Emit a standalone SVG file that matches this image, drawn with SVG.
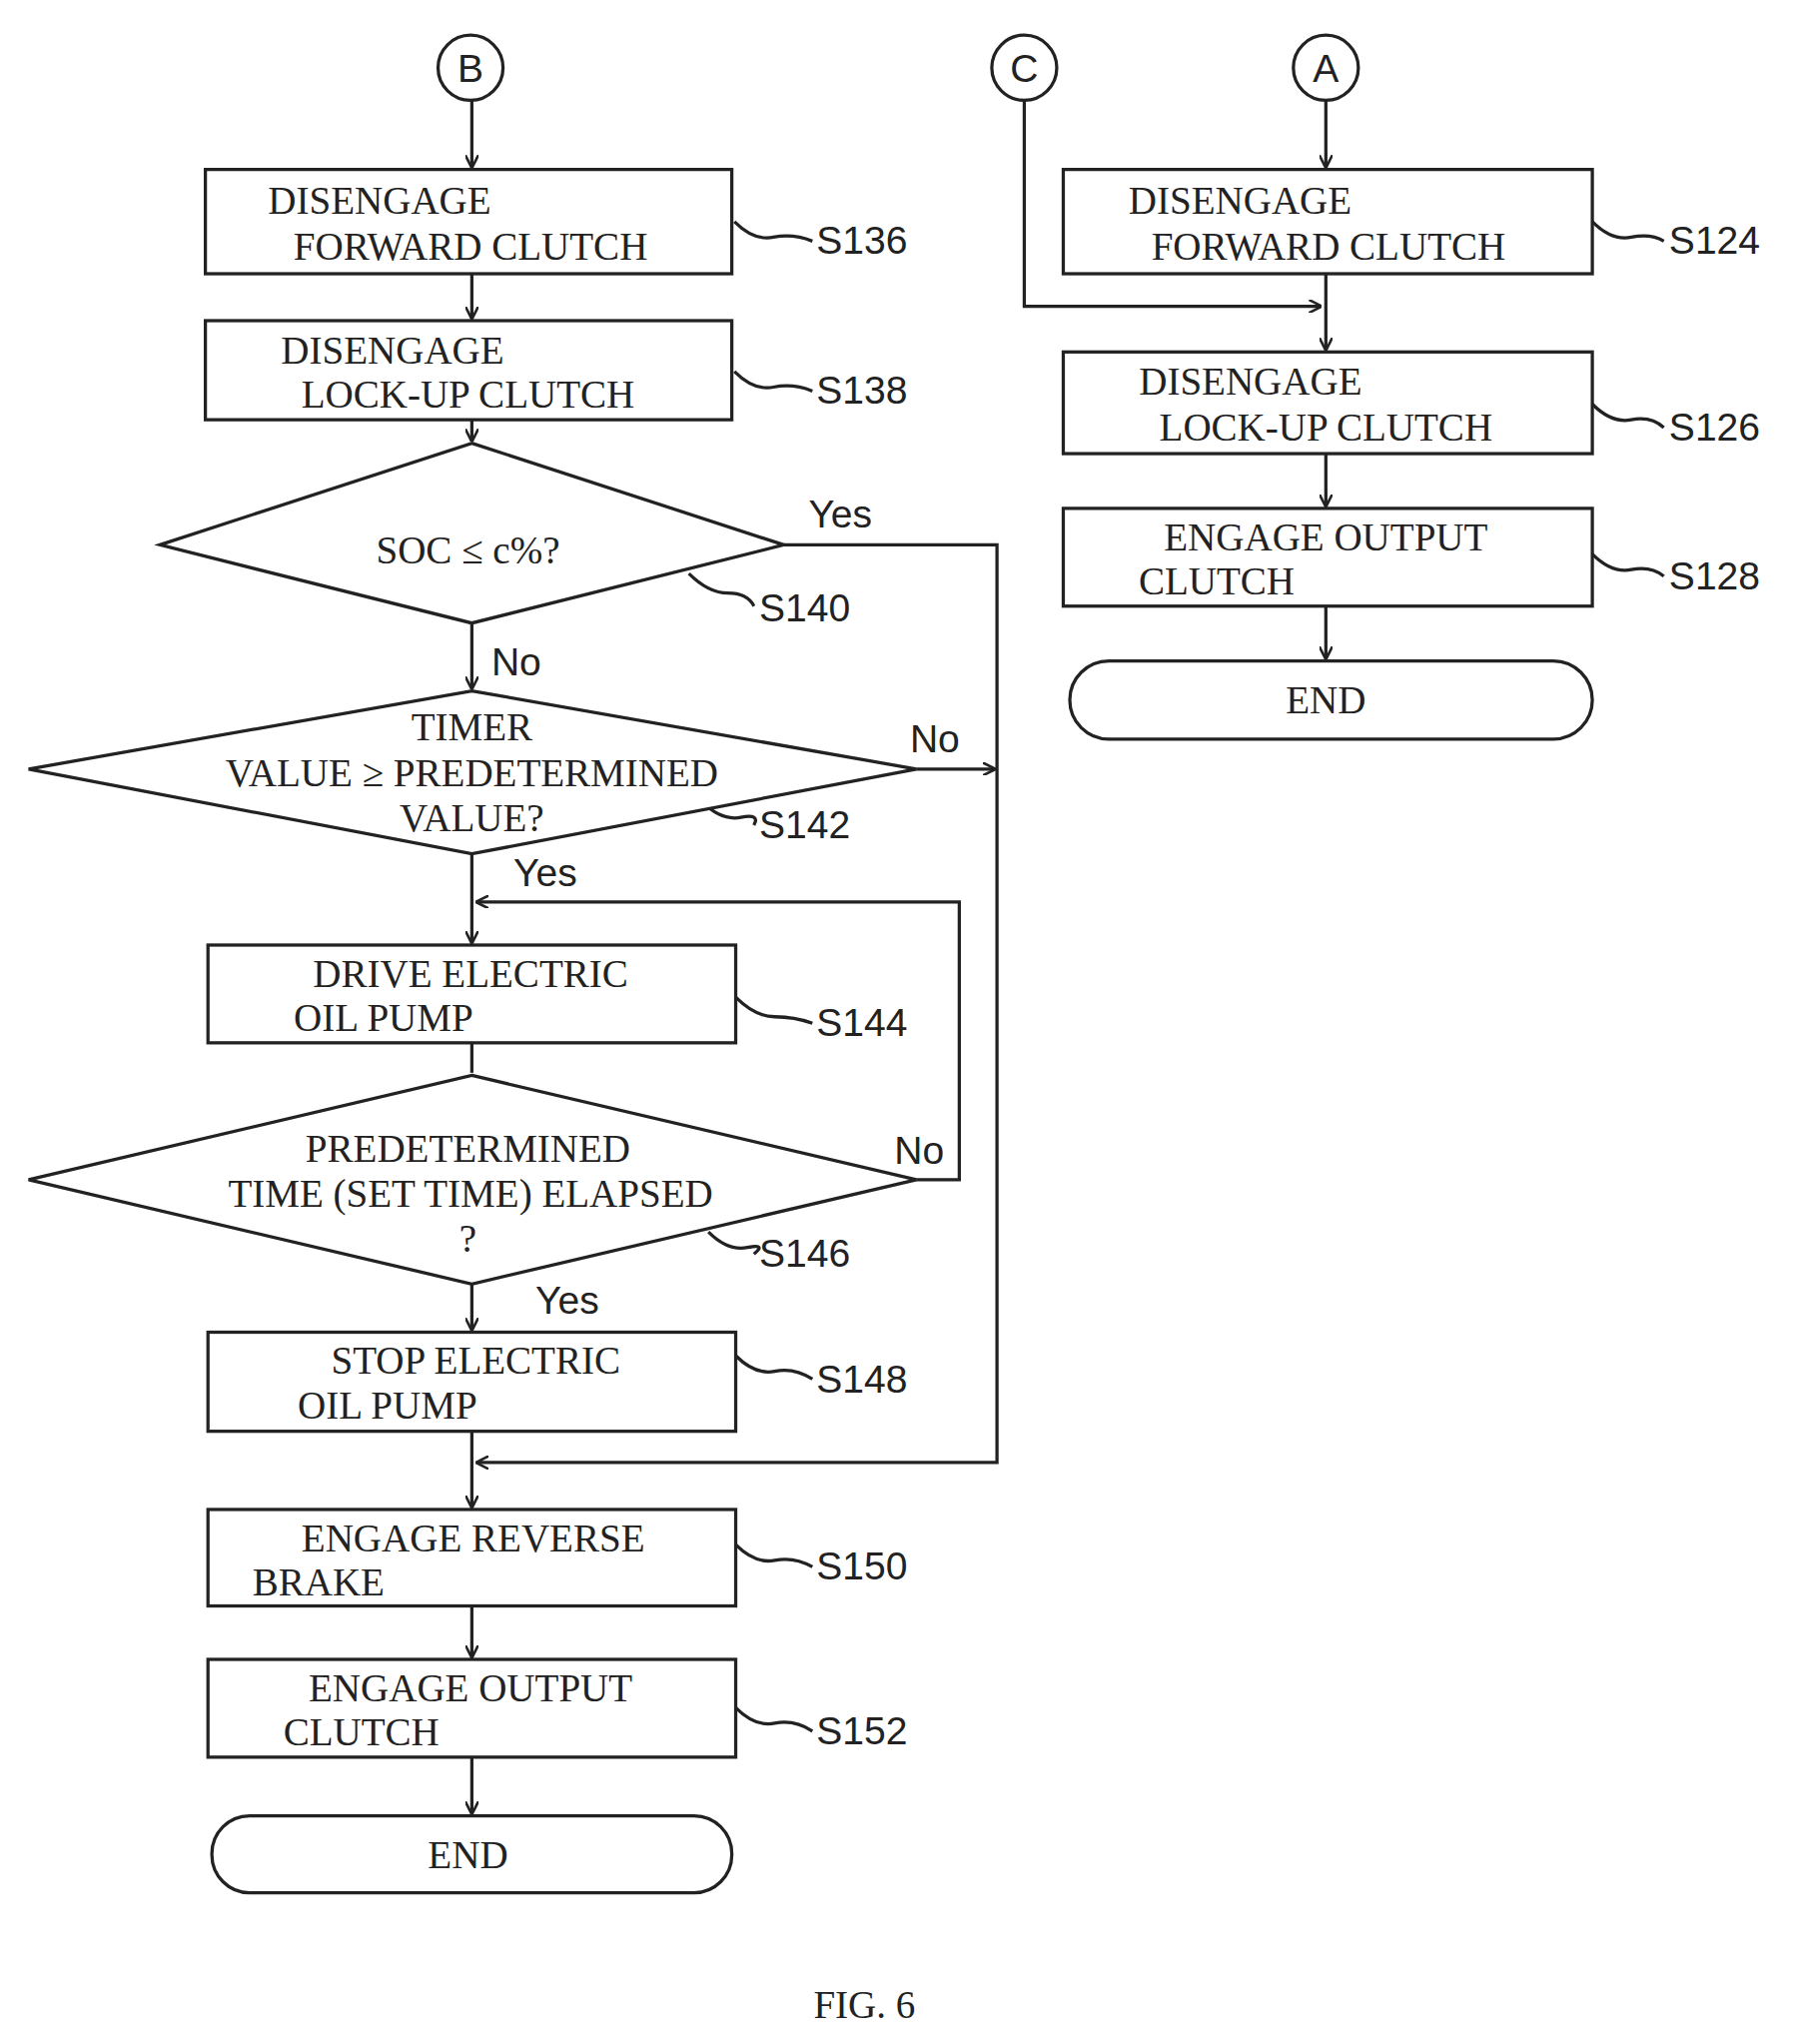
<svg xmlns="http://www.w3.org/2000/svg" width="1801" height="2046" viewBox="0 0 1801 2046">
<style>
.b{fill:#fff;stroke:#222;stroke-width:2.5}
.l{fill:none;stroke:#222;stroke-width:2.5}
.t{font-family:"Liberation Serif",serif;font-size:30px;fill:#222;text-anchor:middle}
.s{font-family:"Liberation Sans",sans-serif;font-size:30px;fill:#222}
</style>
<defs><marker id="a" markerWidth="10" markerHeight="10" refX="9" refY="5" orient="auto" markerUnits="userSpaceOnUse"><path d="M0,0 L10,5 L0,10" fill="none" stroke="#222" stroke-width="2"/></marker></defs>
<rect width="1801" height="2046" fill="#fff"/>
<g transform="scale(1.3013,1.3048)">
<g id="connectors" class="l">
<path d="M363,77 V128" marker-end="url(#a)"/>
<path d="M363,210 V244" marker-end="url(#a)"/>
<path d="M363,322 V338" marker-end="url(#a)"/>
<path d="M363,478 V528" marker-end="url(#a)"/>
<path d="M363,655 V723" marker-end="url(#a)"/>
<path d="M363,800 V823"/>
<path d="M363,985 V1020" marker-end="url(#a)"/>
<path d="M363,1098 V1156" marker-end="url(#a)"/>
<path d="M363,1232 V1271" marker-end="url(#a)"/>
<path d="M363,1348 V1391" marker-end="url(#a)"/>
<path d="M603,418 H767 V1122 H367" marker-end="url(#a)"/>
<path d="M705,590 H765" marker-end="url(#a)"/>
<path d="M705,905 H738 V692 H367" marker-end="url(#a)"/>
<path d="M1020,77 V128" marker-end="url(#a)"/>
<path d="M1020,210 V268" marker-end="url(#a)"/>
<path d="M788,77 V235 H1016" marker-end="url(#a)"/>
<path d="M1020,348 V388" marker-end="url(#a)"/>
<path d="M1020,465 V505" marker-end="url(#a)"/>
<path d="M565,170 q15,15 30,12 T625,185"/><path d="M565,285 q15,15 30,12 T625,300"/>
<path d="M530,440 q15,15 30,15 T580,465"/><path d="M540,615 q15,15 30,12 T580,633"/>
<path d="M566,765 q15,15 30,15 T625,785"/><path d="M545,945 q15,15 30,12 T580,962"/>
<path d="M566,1040 q15,15 30,12 T625,1058"/><path d="M566,1185 q15,15 30,12 T625,1202"/>
<path d="M566,1310 q15,15 30,12 T625,1328"/>
<path d="M1225,170 q15,15 30,12 T1280,185"/><path d="M1225,310 q15,15 30,12 T1280,328"/>
<path d="M1225,425 q15,15 30,12 T1280,442"/>
</g>
<g id="B"><circle class="b" cx="362" cy="52" r="25"/><text class="s" x="362" y="63" text-anchor="middle">B</text></g>
<g id="C"><circle class="b" cx="788" cy="52" r="25"/><text class="s" x="788" y="63" text-anchor="middle">C</text></g>
<g id="A"><circle class="b" cx="1020" cy="52" r="25"/><text class="s" x="1020" y="63" text-anchor="middle">A</text></g>
<g id="S136"><rect class="b" x="158" y="130" width="405" height="80"/><text class="t" x="292" y="164">DISENGAGE</text><text class="t" x="362" y="199">FORWARD CLUTCH</text><text class="s" x="628" y="195">S136</text></g>
<g id="S138"><rect class="b" x="158" y="246" width="405" height="76"/><text class="t" x="302" y="279">DISENGAGE</text><text class="t" x="360" y="313">LOCK-UP CLUTCH</text><text class="s" x="628" y="310">S138</text></g>
<g id="S140"><polygon class="b" points="363,340 603,418 363,478 123,418"/><text class="t" x="360" y="432">SOC ≤ c%?</text><text class="s" x="584" y="477">S140</text><text class="s" x="622" y="405">Yes</text><text class="s" x="378" y="518">No</text></g>
<g id="S142"><polygon class="b" points="363,530 705,590 363,655 22,590"/><text class="t" x="363" y="568">TIMER</text><text class="t" x="363" y="603">VALUE ≥ PREDETERMINED</text><text class="t" x="363" y="638">VALUE?</text><text class="s" x="584" y="643">S142</text><text class="s" x="700" y="577">No</text><text class="s" x="395" y="680">Yes</text></g>
<g id="S144"><rect class="b" x="160" y="725" width="406" height="75"/><text class="t" x="362" y="757">DRIVE ELECTRIC</text><text class="t" x="295" y="791">OIL PUMP</text><text class="s" x="628" y="795">S144</text></g>
<g id="S146"><polygon class="b" points="363,825 705,905 363,985 22,905"/><text class="t" x="360" y="891">PREDETERMINED</text><text class="t" x="362" y="926">TIME (SET TIME) ELAPSED</text><text class="t" x="360" y="960">?</text><text class="s" x="584" y="972">S146</text><text class="s" x="688" y="893">No</text><text class="s" x="412" y="1008">Yes</text></g>
<g id="S148"><rect class="b" x="160" y="1022" width="406" height="76"/><text class="t" x="366" y="1054">STOP ELECTRIC</text><text class="t" x="298" y="1088">OIL PUMP</text><text class="s" x="628" y="1068">S148</text></g>
<g id="S150"><rect class="b" x="160" y="1158" width="406" height="74"/><text class="t" x="364" y="1190">ENGAGE REVERSE</text><text class="t" x="245" y="1224">BRAKE</text><text class="s" x="628" y="1212">S150</text></g>
<g id="S152"><rect class="b" x="160" y="1273" width="406" height="75"/><text class="t" x="362" y="1305">ENGAGE OUTPUT</text><text class="t" x="278" y="1339">CLUTCH</text><text class="s" x="628" y="1338">S152</text></g>
<g id="END1"><rect class="b" x="163" y="1393" width="400" height="59" rx="29"/><text class="t" x="360" y="1433">END</text></g>
<g id="S124"><rect class="b" x="818" y="130" width="407" height="80"/><text class="t" x="954" y="164">DISENGAGE</text><text class="t" x="1022" y="199">FORWARD CLUTCH</text><text class="s" x="1284" y="195">S124</text></g>
<g id="S126"><rect class="b" x="818" y="270" width="407" height="78"/><text class="t" x="962" y="303">DISENGAGE</text><text class="t" x="1020" y="338">LOCK-UP CLUTCH</text><text class="s" x="1284" y="338">S126</text></g>
<g id="S128"><rect class="b" x="818" y="390" width="407" height="75"/><text class="t" x="1020" y="422">ENGAGE OUTPUT</text><text class="t" x="936" y="456">CLUTCH</text><text class="s" x="1284" y="452">S128</text></g>
<g id="END2"><rect class="b" x="823" y="507" width="402" height="60" rx="30"/><text class="t" x="1020" y="547">END</text></g>
<text class="t" x="665" y="1548">FIG. 6</text>
</g>
</svg>
